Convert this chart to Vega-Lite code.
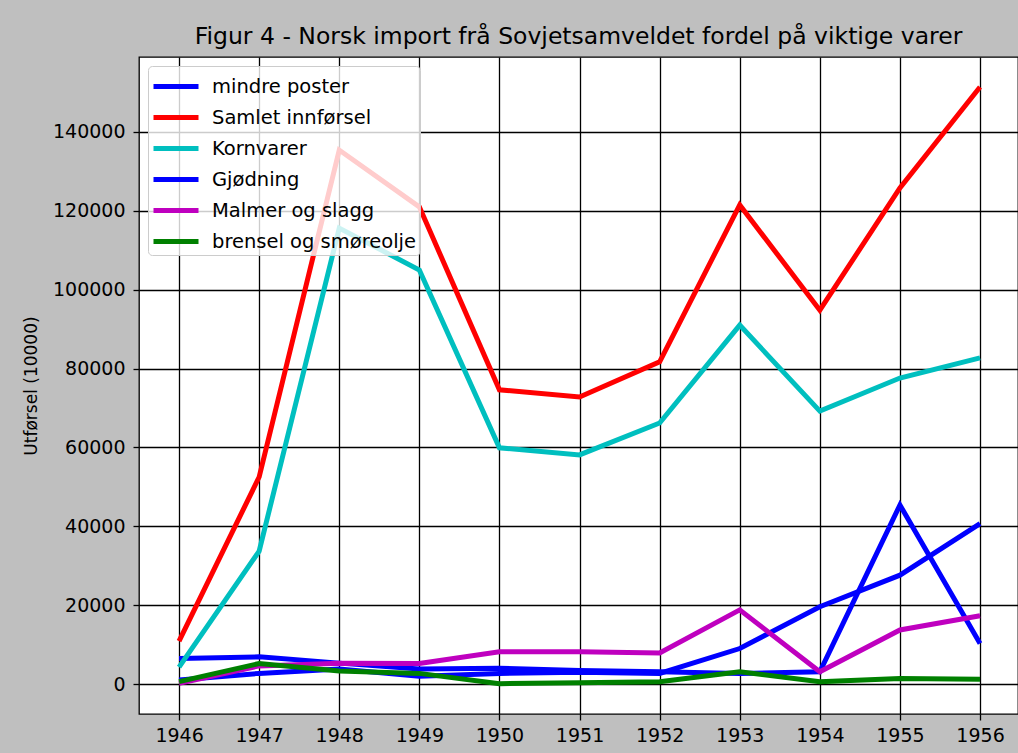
{
  "$schema": "https://vega.github.io/schema/vega-lite/v6.json",
  "autosize": "none",
  "width": 879,
  "height": 657,
  "padding": {"left": 139, "top": 57, "right": 0, "bottom": 39},
  "background": "#bfbfbf",
  "title": {"text": "Figur 4 - Norsk import frå Sovjetsamveldet fordel på viktige varer", "font": "DejaVu Sans", "fontSize": 23.5, "fontWeight": "normal", "color": "#000000", "offset": 9, "anchor": "middle"},
  "config": {
    "font": "DejaVu Sans",
    "view": {"fill": "white", "stroke": "black", "strokeWidth": 1.3},
    "axis": {"grid": true, "gridColor": "black", "gridWidth": 1.3, "gridOpacity": 1, "domain": false, "tickColor": "black", "tickSize": 6, "tickWidth": 1.3, "labelFont": "DejaVu Sans", "labelFontSize": 19, "labelColor": "#000000", "titleFont": "DejaVu Sans", "titleFontSize": 17, "titleFontWeight": "normal", "titleColor": "#000000"}
  },
  "data": {"values": [
    {"year": 1946, "series": "mindre poster", "value": 6500},
    {"year": 1947, "series": "mindre poster", "value": 6900},
    {"year": 1948, "series": "mindre poster", "value": 5300},
    {"year": 1949, "series": "mindre poster", "value": 3800},
    {"year": 1950, "series": "mindre poster", "value": 4000},
    {"year": 1951, "series": "mindre poster", "value": 3400},
    {"year": 1952, "series": "mindre poster", "value": 3100},
    {"year": 1953, "series": "mindre poster", "value": 2700},
    {"year": 1954, "series": "mindre poster", "value": 3100},
    {"year": 1955, "series": "mindre poster", "value": 45400},
    {"year": 1956, "series": "mindre poster", "value": 10300},
    {"year": 1946, "series": "Samlet innførsel", "value": 10900},
    {"year": 1947, "series": "Samlet innførsel", "value": 52500},
    {"year": 1948, "series": "Samlet innførsel", "value": 135400},
    {"year": 1949, "series": "Samlet innførsel", "value": 121000},
    {"year": 1950, "series": "Samlet innførsel", "value": 74600},
    {"year": 1951, "series": "Samlet innførsel", "value": 72800},
    {"year": 1952, "series": "Samlet innførsel", "value": 81700},
    {"year": 1953, "series": "Samlet innførsel", "value": 121500},
    {"year": 1954, "series": "Samlet innførsel", "value": 94800},
    {"year": 1955, "series": "Samlet innførsel", "value": 125800},
    {"year": 1956, "series": "Samlet innførsel", "value": 151400},
    {"year": 1946, "series": "Kornvarer", "value": 4300},
    {"year": 1947, "series": "Kornvarer", "value": 33700},
    {"year": 1948, "series": "Kornvarer", "value": 115600},
    {"year": 1949, "series": "Kornvarer", "value": 105000},
    {"year": 1950, "series": "Kornvarer", "value": 59900},
    {"year": 1951, "series": "Kornvarer", "value": 58100},
    {"year": 1952, "series": "Kornvarer", "value": 66200},
    {"year": 1953, "series": "Kornvarer", "value": 91000},
    {"year": 1954, "series": "Kornvarer", "value": 69200},
    {"year": 1955, "series": "Kornvarer", "value": 77600},
    {"year": 1956, "series": "Kornvarer", "value": 82700},
    {"year": 1946, "series": "Gjødning", "value": 1000},
    {"year": 1947, "series": "Gjødning", "value": 2700},
    {"year": 1948, "series": "Gjødning", "value": 3800},
    {"year": 1949, "series": "Gjødning", "value": 2000},
    {"year": 1950, "series": "Gjødning", "value": 2700},
    {"year": 1951, "series": "Gjødning", "value": 3000},
    {"year": 1952, "series": "Gjødning", "value": 2700},
    {"year": 1953, "series": "Gjødning", "value": 9000},
    {"year": 1954, "series": "Gjødning", "value": 19600},
    {"year": 1955, "series": "Gjødning", "value": 27600},
    {"year": 1956, "series": "Gjødning", "value": 40700},
    {"year": 1946, "series": "Malmer og slagg", "value": 200},
    {"year": 1947, "series": "Malmer og slagg", "value": 4600},
    {"year": 1948, "series": "Malmer og slagg", "value": 5300},
    {"year": 1949, "series": "Malmer og slagg", "value": 5200},
    {"year": 1950, "series": "Malmer og slagg", "value": 8200},
    {"year": 1951, "series": "Malmer og slagg", "value": 8200},
    {"year": 1952, "series": "Malmer og slagg", "value": 7900},
    {"year": 1953, "series": "Malmer og slagg", "value": 18800},
    {"year": 1954, "series": "Malmer og slagg", "value": 3100},
    {"year": 1955, "series": "Malmer og slagg", "value": 13700},
    {"year": 1956, "series": "Malmer og slagg", "value": 17300},
    {"year": 1946, "series": "brensel og smøreolje", "value": 600},
    {"year": 1947, "series": "brensel og smøreolje", "value": 5200},
    {"year": 1948, "series": "brensel og smøreolje", "value": 3300},
    {"year": 1949, "series": "brensel og smøreolje", "value": 2700},
    {"year": 1950, "series": "brensel og smøreolje", "value": 100},
    {"year": 1951, "series": "brensel og smøreolje", "value": 300},
    {"year": 1952, "series": "brensel og smøreolje", "value": 600},
    {"year": 1953, "series": "brensel og smøreolje", "value": 3100},
    {"year": 1954, "series": "brensel og smøreolje", "value": 600},
    {"year": 1955, "series": "brensel og smøreolje", "value": 1400},
    {"year": 1956, "series": "brensel og smøreolje", "value": 1200}
  ]},
  "mark": {"type": "line", "strokeWidth": 5, "clip": true},
  "encoding": {
    "x": {"field": "year", "type": "quantitative", "scale": {"domain": [1945.5, 1956.474], "nice": false, "zero": false},
      "axis": {"values": [1946, 1947, 1948, 1949, 1950, 1951, 1952, 1953, 1954, 1955, 1956], "format": "d", "title": null, "labelPadding": 6}},
    "y": {"field": "value", "type": "quantitative", "scale": {"domain": [-7600, 159000], "nice": false, "zero": false},
      "axis": {"values": [0, 20000, 40000, 60000, 80000, 100000, 120000, 140000], "format": "d", "title": "Utførsel (10000)", "labelPadding": 8, "titlePadding": 12}},
    "color": {"field": "series", "type": "nominal",
      "scale": {"domain": ["mindre poster", "Samlet innførsel", "Kornvarer", "Gjødning", "Malmer og slagg", "brensel og smøreolje"], "range": ["#0000ff", "#ff0000", "#00bfbf", "#0000ff", "#bf00bf", "#008000"]},
      "legend": {"title": null, "orient": "top-left", "offset": 9, "padding": 3, "rowPadding": 3, "labelFontSize": 19.5, "labelLimit": 0, "labelFont": "DejaVu Sans", "labelColor": "#000000", "symbolType": "M-1,0H2", "symbolSize": 900, "symbolStrokeWidth": 5, "symbolFillColor": "transparent", "labelOffset": 26, "fillColor": "rgba(255,255,255,0.8)", "strokeColor": "#cccccc", "cornerRadius": 4}},
    "detail": {"field": "series"}
  }
}
